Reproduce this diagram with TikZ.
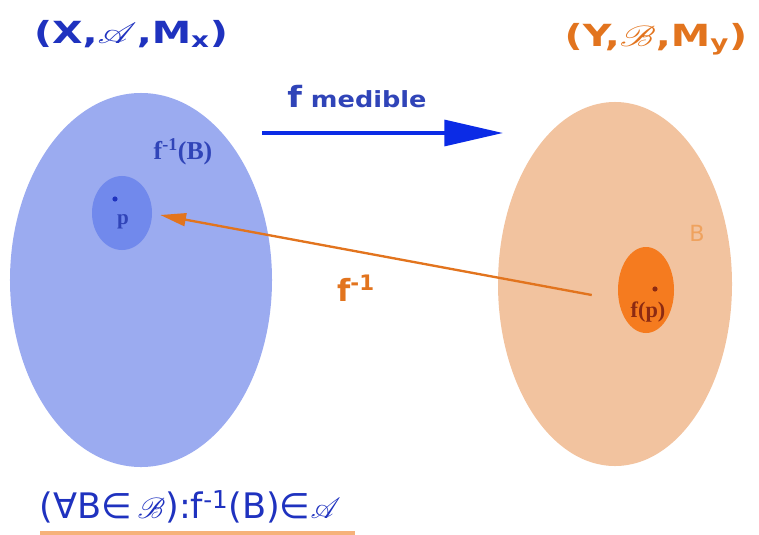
\documentclass[tikz,border=0pt]{standalone}
\usepackage{fontspec}
\usepackage{graphicx}
\usepackage{mathrsfs}
\setsansfont{DejaVu Sans}
\newfontfamily\serifb{Liberation Serif}
\usetikzlibrary{arrows.meta, shapes.geometric}

\definecolor{Xfill}{HTML}{9BABF0}
\definecolor{pfill}{HTML}{7189EC}
\definecolor{Yfill}{HTML}{F2C39F}
\definecolor{Bfill}{HTML}{F57B1F}
\definecolor{Xblue}{HTML}{1F32BF}
\definecolor{Xlbl}{HTML}{3044B8}
\definecolor{arrowblue}{HTML}{0B2BE6}
\definecolor{Yorange}{HTML}{E2741E}
\definecolor{Blbl}{HTML}{EFA25E}
\definecolor{fplbl}{HTML}{8C2A12}
\definecolor{uline}{HTML}{F6B27A}

\newcommand{\stretchx}[2]{\scalebox{#1}[1]{#2}}

\begin{document}
\begin{tikzpicture}[x=0.03cm, y=-0.03cm,
  set/.style={ellipse, inner sep=0pt},
  hd/.style={font=\sffamily\bfseries\fontsize{26}{28}\selectfont, inner sep=0pt},
  lbl/.style={font=\serifb\bfseries\fontsize{20}{22}\selectfont, inner sep=0pt},
  spot/.style={circle, fill=#1, inner sep=0pt, minimum size=4.4pt},
  bigarrow/.style={-{Triangle[length=50pt, width=22pt]}, line width=3.2pt, arrowblue},
  invarrow/.style={-{Triangle[length=22pt, width=11pt]}, line width=2pt, Yorange}
]
\useasboundingbox (0,0) rectangle (759,534);

\node[set, fill=Xfill, minimum width=7.86cm, minimum height=11.22cm] (X) at (141,280) {};
\node[set, fill=Yfill, minimum width=7.02cm, minimum height=10.92cm] (Y) at (615,284) {};
\node[set, fill=pfill, minimum width=1.8cm, minimum height=2.22cm] (pin) at (122,213) {};
\node[set, fill=Bfill, minimum width=1.68cm, minimum height=2.58cm] (Bin) at (646,290) {};

\node[hd, text=Xblue] (tX) at (131,34) {\stretchx{1.3}{(X,$\mathscr{A}$,M\textsubscript{x})}};
\node[hd, text=Yorange] (tY) at (656,39) {\stretchx{1.3}{(Y,$\mathscr{B}$,M\textsubscript{y})}};

\node[hd, text=Xlbl, font=\sffamily\bfseries\fontsize{19}{22}\selectfont] (fm) at (357,97)
  {\stretchx{1.15}{{\fontsize{25}{26}\selectfont f} medible}};
\coordinate (a0) at (262,133);
\coordinate (a1) at (503,133);
\draw[bigarrow] (a0) -- (a1);

\node[lbl, text=Xlbl, font=\serifb\bfseries\fontsize{22}{24}\selectfont] (fB) at (183,152) {f\textsuperscript{-1}(B)};
\node[spot=Xblue] (p) at (115,199) {};
\node[lbl, text=Xlbl, font=\serifb\bfseries\fontsize{18}{20}\selectfont] (plbl) at (123,222) {p};

\node[spot=fplbl] (fp) at (655,289) {};
\node[lbl, text=fplbl, font=\serifb\bfseries\fontsize{19}{21}\selectfont] (fplabel) at (648,312) {f(p)};
\node[hd, text=Blbl, font=\sffamily\fontsize{19}{21}\selectfont] (Blabel) at (697,233) {B};

\draw[invarrow] ([xshift=-0.78cm, yshift=-0.15cm]Bin.west) -- ([xshift=0.24cm, yshift=-0.06cm]pin.east);
\node[hd, text=Yorange, font=\sffamily\bfseries\fontsize{26}{28}\selectfont] (finv) at (356,288) {f\textsuperscript{-1}};

\node[hd, text=Xblue, font=\sffamily\fontsize{30}{32}\selectfont] (cond) at (190,507)
  {(∀B∈\,$\mathscr{B}$):f\textsuperscript{-1}(B)∈$\mathscr{A}$};
\coordinate (u0) at (40,533);
\coordinate (u1) at (355,533);
\draw[line width=4pt, uline] (u0) -- (u1);
\end{tikzpicture}
\end{document}
